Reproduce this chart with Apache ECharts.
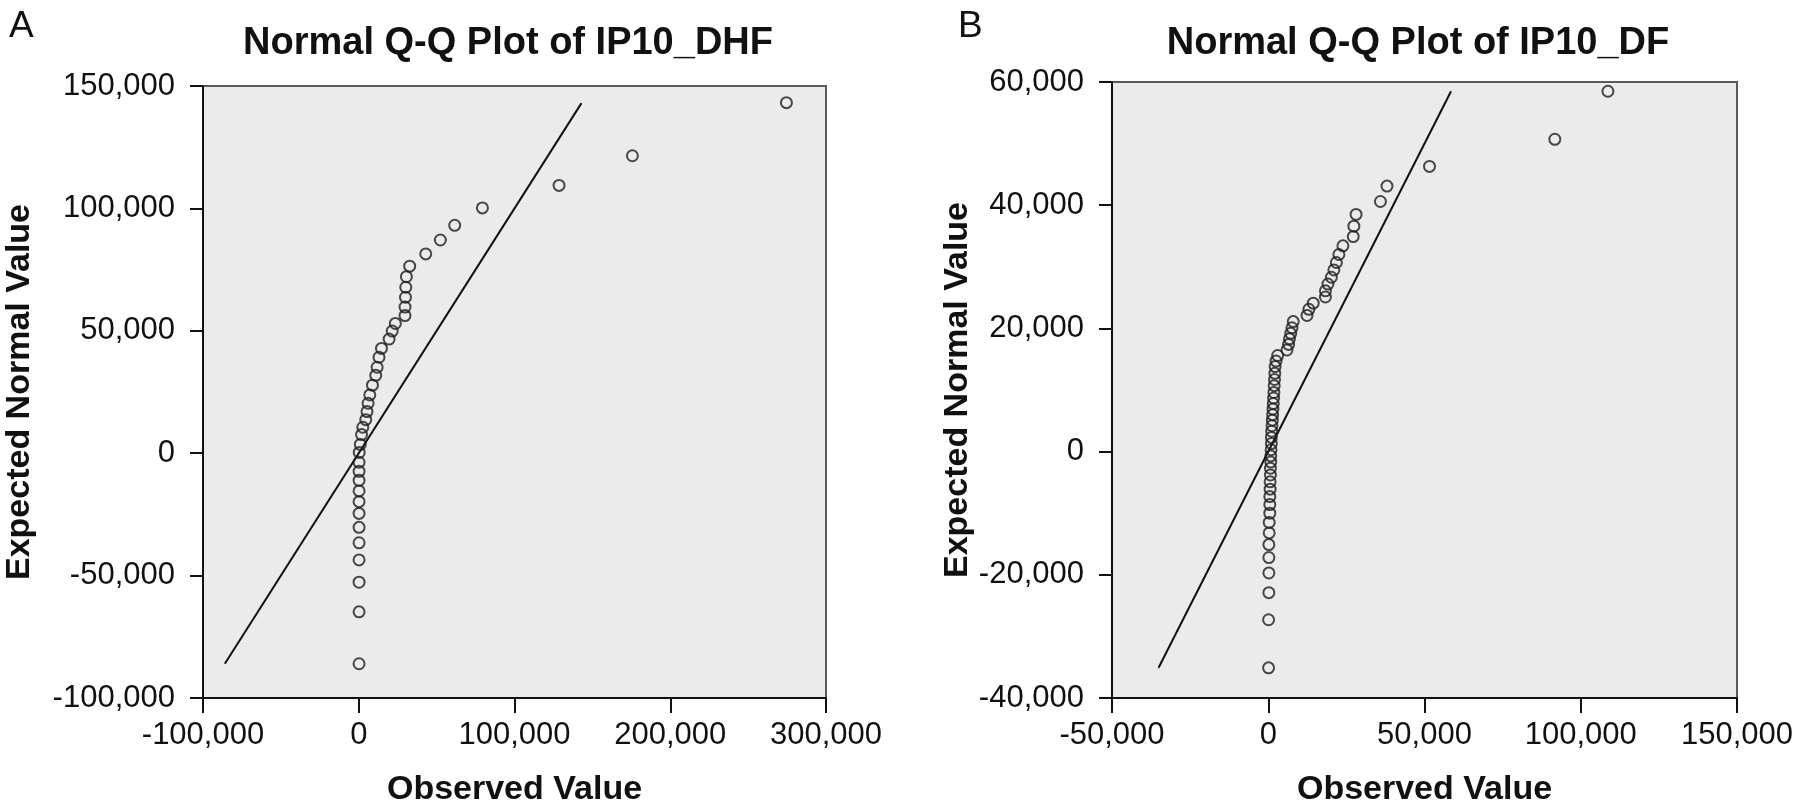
<!DOCTYPE html>
<html>
<head>
<meta charset="utf-8">
<script src="https://cdn.jsdelivr.net/npm/echarts@6/dist/echarts.min.js"></script>
<style>
html,body{margin:0;padding:0;background:#fff;}
#chart{width:1800px;height:812px;}
</style>
</head>
<body>
<div id="chart"></div>
<script>
// ---------- Panel A : IP10_DHF ----------
const titleA = "Normal Q-Q Plot of IP10_DHF";
const panelLabelA = "A";
const observedA = [200,200,200,200,200,200,200,200,200,200,200,200,300,1000,1800,2600,4500,5300,6000,7100,
  8800,
  10900,11800,13000,14600,19500,21500,23500,29700,29700,30000,30200,30600,32700,43000,52400,61600,79400,128600,175700,274600];
const expectedA = [-86000,-64800,-52700,-43600,-36600,-30300,-24600,-19800,-15400,-11100,-7400,-3700,300,3600,7600,10600,13700,17000,20400,23800,
  27800,
  31800,35100,39200,42800,46600,49900,53000,56200,59700,63700,67800,72100,76400,81400,87100,93100,100200,109400,121500,143200];
const refLineA = [-86000, 143000];
const xTicksA = [-100000, 0, 100000, 200000, 300000];
const yTicksA = [-100000, -50000, 0, 50000, 100000, 150000];

// ---------- Panel B : IP10_DF ----------
const titleB = "Normal Q-Q Plot of IP10_DF";
const panelLabelB = "B";
const observedB = [100,100,200,200,200,200,300,300,500,500,500,600,600,700,700,800,800,900,1000,1000,1100,1200,1300,1400,1500,1600,1700,1800,1900,
  2000,
  2100,2200,2500,3000,6000,6500,6800,7200,7600,8000,12400,13000,14400,18300,18300,19100,20200,21000,21800,22600,23900,27200,27400,28100,35900,38000,51600,91700,108700];
const expectedB = [-35100,-27300,-22900,-19700,-17200,-15100,-13200,-11500,-10000,-8600,-7300,-6100,-4900,-3800,-2700,-1700,-700,300,1300,2300,3300,4200,5100,6000,6900,7800,8700,9600,10700,
  11700,
  12700,13800,14700,15600,16500,17400,18300,19200,20100,21100,22100,23100,24100,25100,26100,27200,28300,29500,30700,32000,33400,34900,36600,38500,40600,43100,46300,50700,58500];
const refLineB = [-35100, 58500];
const xTicksB = [-50000, 0, 50000, 100000, 150000];
const yTicksB = [-40000, -20000, 0, 20000, 40000, 60000];

const xName = "Observed Value";
const yName = "Expected Normal Value";

const FONT = "'Liberation Sans', Arial, Helvetica, sans-serif";
const fmt = v => Number(v).toLocaleString('en-US');
const pairs = (xs, ys) => xs.map((x, i) => [x, ys[i]]);

function gridOf(left, top, width, height) {
  return { left, top, width, height, show: true, backgroundColor: '#ebebeb',
           borderColor: '#5a5a5a', borderWidth: 2, containLabel: false };
}
function xAxisOf(idx, ticks) {
  return {
    gridIndex: idx, type: 'value',
    min: ticks[0], max: ticks[ticks.length - 1], interval: ticks[1] - ticks[0],
    name: xName, nameLocation: 'middle', nameGap: 75,
    nameTextStyle: { fontFamily: FONT, fontSize: 34, fontWeight: 'bold', color: '#111' },
    axisLine: { show: true, onZero: false, lineStyle: { color: '#111', width: 2 } },
    axisTick: { show: true, inside: false, length: 15, lineStyle: { color: '#111', width: 2 } },
    axisLabel: { fontFamily: FONT, fontSize: 31, color: '#111', margin: 22, formatter: fmt,
                 showMinLabel: true, showMaxLabel: true },
    splitLine: { show: false }
  };
}
function yAxisOf(idx, ticks, gap) {
  return {
    gridIndex: idx, type: 'value',
    min: ticks[0], max: ticks[ticks.length - 1], interval: ticks[1] - ticks[0],
    name: yName, nameLocation: 'middle', nameGap: gap,
    nameTextStyle: { fontFamily: FONT, fontSize: 34, fontWeight: 'bold', color: '#111' },
    axisLine: { show: true, onZero: false, lineStyle: { color: '#111', width: 2 } },
    axisTick: { show: true, inside: false, length: 13, lineStyle: { color: '#111', width: 2 } },
    axisLabel: { fontFamily: FONT, fontSize: 31, color: '#111', margin: 28, formatter: fmt,
                 showMinLabel: true, showMaxLabel: true },
    splitLine: { show: false }
  };
}
function scatterOf(idx, xs, ys) {
  return {
    type: 'scatter', xAxisIndex: idx, yAxisIndex: idx,
    data: pairs(xs, ys), symbol: 'circle', symbolSize: 11,
    itemStyle: { color: 'rgba(0,0,0,0)', borderColor: '#1e1e1e', borderWidth: 2 },
    emphasis: { disabled: true }, z: 3
  };
}
function refOf(idx, ends) {
  return {
    type: 'line', xAxisIndex: idx, yAxisIndex: idx,
    data: [[ends[0], ends[0]], [ends[1], ends[1]]],
    symbol: 'none', lineStyle: { color: '#111', width: 2 }, z: 2, silent: true
  };
}
function textEl(text, x, y, size, weight, align) {
  return { type: 'text', x, y, style: { text, fontFamily: FONT, fontSize: size, fontWeight: weight,
           fill: '#111', textAlign: align, textVerticalAlign: 'top' } };
}

const chart = echarts.init(document.getElementById('chart'), null, { renderer: 'canvas' });
chart.setOption({
  animation: false,
  backgroundColor: '#ffffff',
  grid: [gridOf(203, 86, 623, 621), gridOf(1112, 82, 625, 623)],
  xAxis: [xAxisOf(0, xTicksA), xAxisOf(1, xTicksB)],
  yAxis: [yAxisOf(0, yTicksA, 166), yAxisOf(1, yTicksB, 136)],
  series: [refOf(0, refLineA), scatterOf(0, observedA, expectedA),
           refOf(1, refLineB), scatterOf(1, observedB, expectedB)],
  graphic: [
    textEl(panelLabelA, 9, 8, 37, 'normal', 'left'),
    textEl(titleA, 508, 25, 38, 'bold', 'center'),
    textEl(panelLabelB, 958, 8, 37, 'normal', 'left'),
    textEl(titleB, 1418, 25, 38, 'bold', 'center')
  ]
});
</script>
</body>
</html>
